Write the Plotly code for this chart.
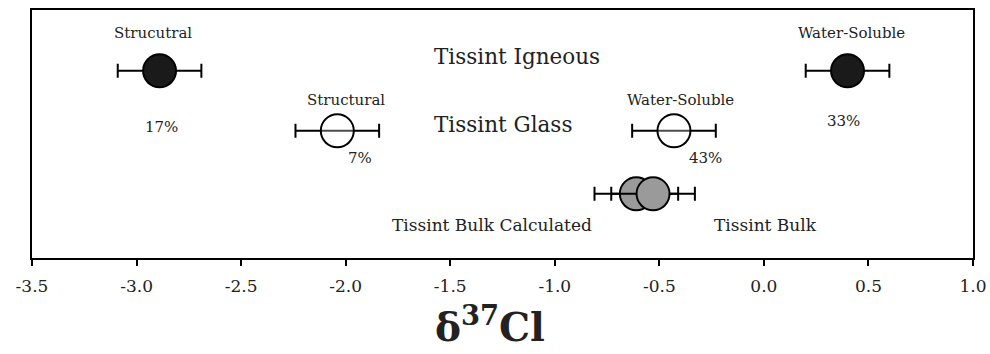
import plotly.graph_objects as go

# Data
igneous_labels = ["Strucutral", "Water-Soluble"]
igneous_d37cl = [-2.89, 0.40]
igneous_err = [0.20, 0.20]
igneous_pct = ["17%", "33%"]

glass_labels = ["Structural", "Water-Soluble"]
glass_d37cl = [-2.04, -0.43]
glass_err = [0.20, 0.20]
glass_pct = ["7%", "43%"]

bulk_labels = ["Tissint Bulk Calculated", "Tissint Bulk"]
bulk_d37cl = [-0.61, -0.53]
bulk_err = [0.20, 0.20]

tick_vals = [-3.5, -3.0, -2.5, -2.0, -1.5, -1.0, -0.5, 0.0, 0.5, 1.0]
tick_text = ["-3.5", "-3.0", "-2.5", "-2.0", "-1.5", "-1.0", "-0.5", "0.0", "0.5", "1.0"]

row_level = {"igneous": 3.12, "glass": 2.12, "bulk": 1.07}

FONT = "DejaVu Serif"

fig = go.Figure()

def add(xs, errs, level, fill, name):
    fig.add_trace(go.Scatter(
        x=xs, y=[level] * len(xs), mode="markers", name=name,
        marker=dict(size=33, color=fill, line=dict(color="black", width=2)),
        error_x=dict(type="data", array=errs, color="black", thickness=2, width=7),
        showlegend=False,
    ))

add(igneous_d37cl, igneous_err, row_level["igneous"], "#1a1a1a", "Igneous")
add(glass_d37cl, glass_err, row_level["glass"], "rgba(255,255,255,0.3)", "Glass")
# bulk: calculated first, measured on top
add([bulk_d37cl[0]], [bulk_err[0]], row_level["bulk"], "#9a9a9a", bulk_labels[0])
add([bulk_d37cl[1]], [bulk_err[1]], row_level["bulk"], "#9a9a9a", bulk_labels[1])

anns = [
    (-2.92, 3.75, igneous_labels[0], 15),
    (-2.88, 2.18, igneous_pct[0], 15),
    (0.42, 3.75, igneous_labels[1], 15),
    (0.38, 2.28, igneous_pct[1], 15),
    (-1.18, 3.35, "Tissint Igneous", 21.5),
    (-2.00, 2.63, glass_labels[0], 15),
    (-1.93, 1.67, glass_pct[0], 15),
    (-0.40, 2.63, glass_labels[1], 15),
    (-0.28, 1.67, glass_pct[1], 15),
    (-1.25, 2.23, "Tissint Glass", 21.5),
    (-1.30, 0.55, bulk_labels[0], 17),
    (0.01, 0.55, bulk_labels[1], 17),
]
for x, y, t, s in anns:
    fig.add_annotation(x=x, y=y, text=t, showarrow=False,
                       font=dict(family=FONT, size=s, color="#222"))

fig.add_annotation(xref="paper", yref="paper", x=(490 - 32) / 941, y=-0.27,
                   yanchor="middle", xanchor="center",
                   text="<b>δ<sup>37</sup>Cl</b>", showarrow=False,
                   font=dict(family=FONT, size=39, color="#222"))

fig.update_xaxes(range=[-3.5, 1.0], tickvals=tick_vals, ticktext=tick_text,
                 showline=True, linecolor="black", linewidth=2, mirror=True,
                 ticks="outside", ticklen=6, tickwidth=2, tickcolor="black",
                 showgrid=False, zeroline=False, ticklabelstandoff=6,
                 automargin=False,
                 tickfont=dict(family=FONT, size=17, color="#222"))
fig.update_yaxes(range=[0, 4.133], showticklabels=False, showline=True, linecolor="black",
                 linewidth=2, mirror=True, showgrid=False, zeroline=False, ticks="",
                 automargin=False)

fig.update_layout(width=990, height=354, margin=dict(l=32, r=17, t=10, b=96),
                  plot_bgcolor="white", paper_bgcolor="white")

fig.write_html("out.html")
